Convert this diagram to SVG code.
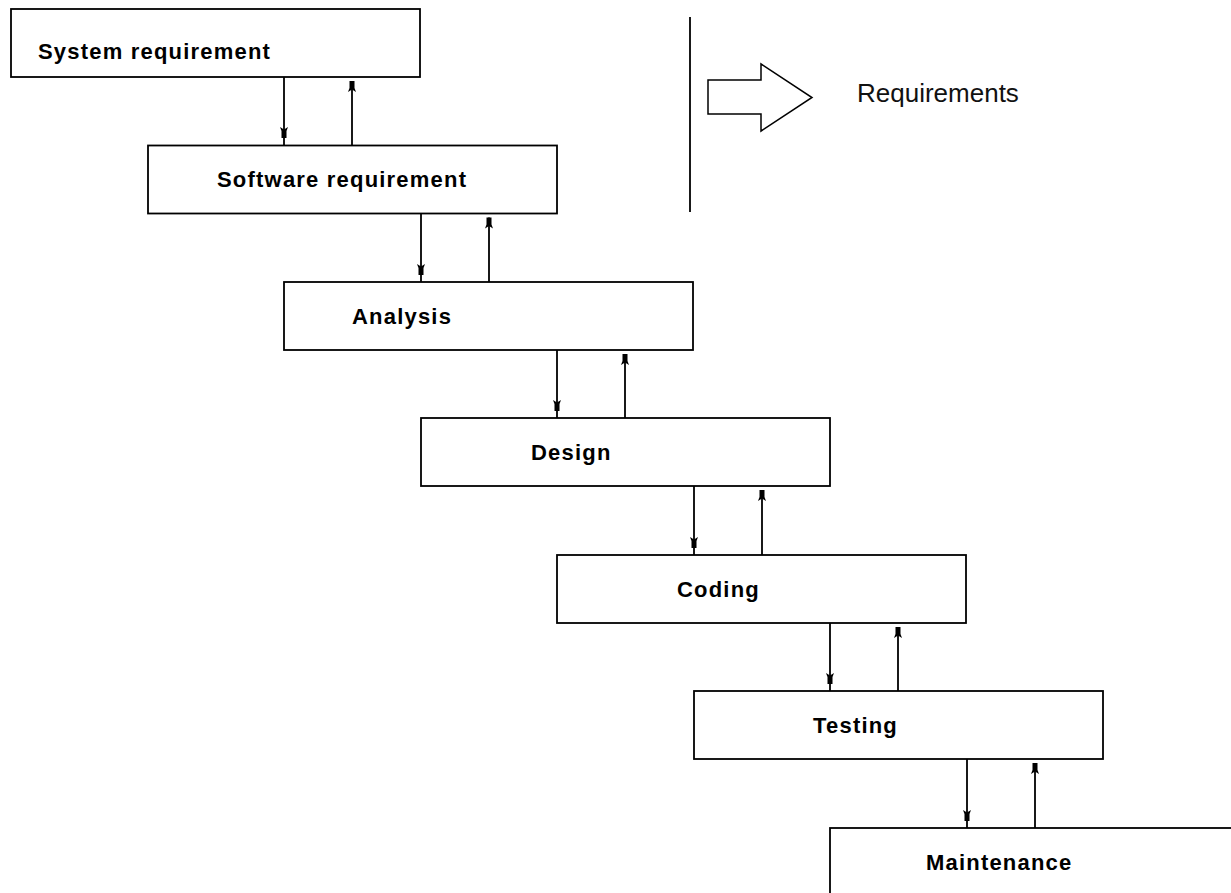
<svg xmlns="http://www.w3.org/2000/svg" xmlns:xlink="http://www.w3.org/1999/xlink" width="1231" height="893" viewBox="0 0 1231 893">
<style>
.box{fill:#fff;stroke:#000;stroke-width:1.8}
.lbl{font-family:"Liberation Sans",Arial,sans-serif;font-weight:bold;font-size:22px;letter-spacing:1.2px;fill:#000}
.cn{stroke:#000;stroke-width:1.8;fill:none}
.ah{fill:#000;stroke:none}
.note{font-family:"Liberation Sans",Arial,sans-serif;font-size:26px;fill:#111}
</style>
<defs>
<path id="ahd" class="ah" d="M-2.5,0 L2.5,0 L2.5,-7 L4,-11 L0,-8.5 L-4,-11 L-2.5,-7 Z"/>
<path id="ahu" class="ah" d="M-2.5,0 L2.5,0 L2.5,7 L4,11 L0,8.5 L-4,11 L-2.5,7 Z"/>
</defs>
<rect width="1231" height="893" fill="#fff"/>
<g id="connectors">
<line class="cn" x1="284" y1="77" x2="284" y2="145.5"/>
<use xlink:href="#ahd" x="284" y="138"/>
<line class="cn" x1="352" y1="81" x2="352" y2="145.5"/>
<use xlink:href="#ahu" x="352" y="81"/>

<line class="cn" x1="421" y1="213.5" x2="421" y2="282"/>
<use xlink:href="#ahd" x="421" y="275"/>
<line class="cn" x1="489" y1="217.5" x2="489" y2="282"/>
<use xlink:href="#ahu" x="489" y="217.5"/>

<line class="cn" x1="557" y1="350" x2="557" y2="418"/>
<use xlink:href="#ahd" x="557" y="411"/>
<line class="cn" x1="625" y1="354" x2="625" y2="418"/>
<use xlink:href="#ahu" x="625" y="354"/>

<line class="cn" x1="694" y1="486" x2="694" y2="555"/>
<use xlink:href="#ahd" x="694" y="548"/>
<line class="cn" x1="762" y1="490" x2="762" y2="555"/>
<use xlink:href="#ahu" x="762" y="490"/>

<line class="cn" x1="830" y1="623" x2="830" y2="691"/>
<use xlink:href="#ahd" x="830" y="684"/>
<line class="cn" x1="898" y1="627" x2="898" y2="691"/>
<use xlink:href="#ahu" x="898" y="627"/>

<line class="cn" x1="967" y1="759" x2="967" y2="828"/>
<use xlink:href="#ahd" x="967" y="821"/>
<line class="cn" x1="1035" y1="763" x2="1035" y2="828"/>
<use xlink:href="#ahu" x="1035" y="763"/>
</g>
<g id="n1"><rect class="box" x="11" y="9" width="409" height="68"/><text class="lbl" x="38" y="58.5">System requirement</text></g>
<g id="n2"><rect class="box" x="148" y="145.5" width="409" height="68"/><text class="lbl" x="217" y="187">Software requirement</text></g>
<g id="n3"><rect class="box" x="284" y="282" width="409" height="68"/><text class="lbl" x="352" y="324">Analysis</text></g>
<g id="n4"><rect class="box" x="421" y="418" width="409" height="68"/><text class="lbl" x="531" y="460">Design</text></g>
<g id="n5"><rect class="box" x="557" y="555" width="409" height="68"/><text class="lbl" x="677" y="597">Coding</text></g>
<g id="n6"><rect class="box" x="694" y="691" width="409" height="68"/><text class="lbl" x="813" y="733">Testing</text></g>
<g id="n7"><rect class="box" x="830" y="828" width="409" height="68"/><text class="lbl" x="926" y="870">Maintenance</text></g>
<g id="legend">
<line x1="690" y1="17" x2="690" y2="212" stroke="#000" stroke-width="1.8"/>
<polygon points="708,80 761,80 761,64 812,97.5 761,131 761,114 708,114" fill="#fff" stroke="#000" stroke-width="1.5"/>
<text class="note" x="857" y="101.5">Requirements</text>
</g>
</svg>
